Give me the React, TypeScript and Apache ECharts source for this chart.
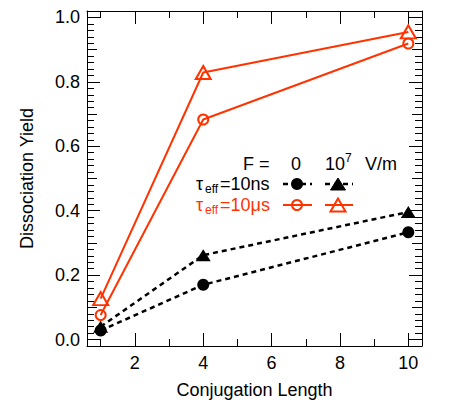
import React, { useEffect, useRef } from "react";
import * as echarts from "echarts";

const xValues = [1, 4, 10];
const ns0 = [0.028, 0.17, 0.333];
const ns7 = [0.04, 0.262, 0.396];
const us0 = [0.076, 0.683, 0.919];
const us7 = [0.127, 0.829, 0.955];
const xTickLabels = [2, 4, 6, 8, 10];
const xMinorTicks = [1, 3, 5, 7, 9];
const yTickLabels = [0, 0.2, 0.4, 0.6, 0.8, 1.0];
const yMidTicks = [0.1, 0.3, 0.5, 0.7, 0.9];
const yMinorTicks = Array.from({ length: 51 }, (_, i) => Math.round(i * 2) / 100);

const RED = "#ff3300";
const FONT = "'Liberation Sans', Arial, Helvetica, sans-serif";

function xAx(position: string, values: number[], len: number, labels: boolean, line: boolean, name?: string) {
  return {
    type: "value",
    position,
    offset: 0,
    min: 0.6,
    max: 10.4,
    name: name || "",
    nameLocation: "middle",
    nameGap: 35,
    nameTextStyle: { fontSize: 18, color: "#000", fontFamily: FONT },
    axisLine: { show: line, onZero: false, lineStyle: { color: "#000", width: 1 } },
    axisTick: { show: true, inside: true, length: len, customValues: values, lineStyle: { color: "#000", width: 1 } },
    axisLabel: labels
      ? { show: true, customValues: values, fontSize: 18, color: "#000", fontFamily: FONT, margin: 8 }
      : { show: false },
    splitLine: { show: false },
  };
}

function yAx(position: string, values: number[], len: number, labels: boolean, line: boolean, name?: string) {
  return {
    type: "value",
    position,
    offset: 0,
    min: -0.02,
    max: 1.02,
    name: name || "",
    nameLocation: "middle",
    nameGap: 51,
    nameTextStyle: { fontSize: 18, color: "#000", fontFamily: FONT },
    axisLine: { show: line, onZero: false, lineStyle: { color: "#000", width: 1 } },
    axisTick: { show: true, inside: true, length: len, customValues: values, lineStyle: { color: "#000", width: 1 } },
    axisLabel: labels
      ? {
          show: true,
          customValues: values,
          fontSize: 18,
          color: "#000",
          fontFamily: FONT,
          margin: 7,
          formatter: (v: number) => v.toFixed(1),
        }
      : { show: false },
    splitLine: { show: false },
  };
}

export default function App() {
  const ref = useRef<HTMLDivElement>(null);
  useEffect(() => {
    if (!ref.current) return;
    const chart = echarts.init(ref.current, null, { renderer: "svg" });
    const pts = (ys: number[]) => xValues.map((x, i) => [x, ys[i]]);
    const txt = (x: number, y: number, text: string, size: number, color: string, align = "left") => ({
      type: "text",
      x,
      y,
      style: { text, fontSize: size, fill: color, fontFamily: FONT, align, verticalAlign: "middle" },
    });
    const tau = (y: number, color: string, rest: string) => [
      txt(196, y, "τ", 18, color),
      txt(205, y + 5, "eff", 12, color),
      txt(220, y, rest, 18, color),
    ];
    const sampleLine = (x1: number, x2: number, y: number, color: string, dashed: boolean) => ({
      type: "line",
      shape: { x1, y1: y, x2, y2: y },
      style: { stroke: color, lineWidth: dashed ? 2.5 : 2, lineDash: dashed ? [5, 4] : null },
    });
    const tri = (cx: number, cy: number, w: number, h: number, color: string, filled: boolean) => ({
      type: "polygon",
      shape: { points: [[cx, cy - h / 2], [cx + w / 2, cy + h / 2], [cx - w / 2, cy + h / 2]] },
      style: filled ? { fill: color, stroke: color, lineWidth: 1 } : { fill: "none", stroke: color, lineWidth: 2 },
    });
    const circ = (cx: number, cy: number, r: number, color: string, filled: boolean) => ({
      type: "circle",
      shape: { cx, cy, r },
      style: filled ? { fill: color } : { fill: "none", stroke: color, lineWidth: 2 },
    });

    chart.setOption({
      animation: false,
      backgroundColor: "#fff",
      grid: { left: 87, right: 41, top: 11, bottom: 63, containLabel: false },
      xAxis: [
        xAx("bottom", xTickLabels, 13, true, true, "Conjugation Length"),
        xAx("bottom", xMinorTicks, 7, false, false),
        xAx("top", xTickLabels, 13, false, true),
        xAx("top", xMinorTicks, 7, false, false),
      ],
      yAxis: [
        yAx("left", yTickLabels, 13, true, true, "Dissociation Yield"),
        yAx("left", yMidTicks, 10, false, false),
        yAx("left", yMinorTicks, 7, false, false),
        yAx("right", yTickLabels, 13, false, true),
        yAx("right", yMidTicks, 10, false, false),
        yAx("right", yMinorTicks, 7, false, false),
      ],
      series: [
        {
          type: "line",
          data: pts(ns7),
          symbol: "triangle",
          symbolSize: [15, 12],
          itemStyle: { color: "#000" },
          lineStyle: { color: "#000", width: 2.5, type: [5, 4] },
        },
        {
          type: "line",
          data: pts(ns0),
          symbol: "circle",
          symbolSize: 12,
          itemStyle: { color: "#000" },
          lineStyle: { color: "#000", width: 2.5, type: [5, 4] },
        },
        {
          type: "line",
          data: pts(us0),
          symbol: "circle",
          symbolSize: 10,
          itemStyle: { color: "transparent", borderColor: RED, borderWidth: 2 },
          lineStyle: { color: RED, width: 2 },
        },
        {
          type: "line",
          data: pts(us7),
          symbol: "triangle",
          symbolSize: [15, 13],
          itemStyle: { color: "transparent", borderColor: RED, borderWidth: 2 },
          lineStyle: { color: RED, width: 2 },
        },
      ],
      graphic: [
        txt(243, 164, "F =", 18, "#000"),
        txt(296, 164, "0", 18, "#000", "center"),
        txt(325, 164, "10", 18, "#000"),
        txt(345, 158, "7", 12, "#000"),
        txt(365, 164, "V/m", 18, "#000"),
        ...tau(184, "#000", "=10ns"),
        sampleLine(283, 312, 184, "#000", true),
        circ(297, 184, 6, "#000", true),
        sampleLine(325, 353, 184, "#000", true),
        tri(338, 184, 15, 12, "#000", true),
        ...tau(205, RED, "=10μs"),
        sampleLine(283, 312, 205, RED, false),
        circ(297, 205, 5, RED, false),
        sampleLine(325, 353, 205, RED, false),
        tri(338, 205, 15, 13, RED, false),
      ],
    });
    return () => chart.dispose();
  }, []);
  return <div ref={ref} style={{ position: "fixed", left: 0, top: 0, width: 463, height: 409 }} />;
}
